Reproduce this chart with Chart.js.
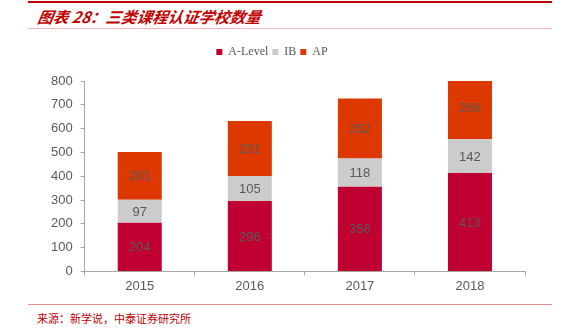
<!DOCTYPE html>
<html>
<head>
<meta charset="utf-8">
<script src="https://cdn.jsdelivr.net/npm/chart.js@4"></script>
<style>
  body { margin: 0; width: 564px; height: 332px; background: #fff; position: relative; overflow: hidden; }
  .topline { position: absolute; left: 28px; top: 1px; width: 524px; height: 2px; background: #c00000; }
  .title { position: absolute; left: 38px; top: 5px; font-family: "Noto Sans CJK SC", sans-serif; font-size: 15.5px; font-weight: bold; font-style: italic; color: #c00000; transform: skewX(-10deg); }
  .subline { position: absolute; left: 28px; top: 28px; width: 524px; height: 1px; background: #f0b4b4; }
  .bottomline { position: absolute; left: 28px; top: 304px; width: 524px; height: 1px; background: #e09090; }
  .source { position: absolute; left: 37px; top: 310px; font-family: "Noto Sans CJK SC", sans-serif; font-size: 11px; color: #c00000; }
  .wrap { position: absolute; left: 0; top: 34px; width: 564px; height: 268px; }
</style>
</head>
<body>
<div class="topline"></div>
<div class="title">图表 28：三类课程认证学校数量</div>
<div class="subline"></div>
<div class="wrap"><canvas id="chart"></canvas></div>
<div class="bottomline"></div>
<div class="source">来源：新学说，中泰证券研究所</div>
<script>
// данные с картинки
const years = ["2015", "2016", "2017", "2018"];
const aLevel = [204, 296, 356, 413];
const ib = [97, 105, 118, 142];
const ap = [201, 231, 252, 269];

// подписи внутри столбиков
const barLabels = {
  id: "barLabels",
  afterDatasetsDraw(chart) {
    const ctx = chart.ctx;
    ctx.save();
    ctx.font = "13px 'Liberation Sans', Arial, sans-serif";
    ctx.fillStyle = "#595959";
    ctx.textAlign = "center";
    ctx.textBaseline = "middle";
    chart.data.datasets.forEach((ds, i) => {
      const meta = chart.getDatasetMeta(i);
      meta.data.forEach((bar, j) => {
        ctx.fillText(ds.data[j], bar.x, (bar.y + bar.base) / 2 + 1);
      });
    });
    ctx.restore();
  }
};

// отступ под легендой и сдвиг легенды влево
const legendGap = {
  id: "legendGap",
  beforeInit(chart) {
    const fit = chart.legend.fit;
    chart.legend.fit = function () {
      fit.bind(chart.legend)();
      this.height += 13;
    };
  },
  afterLayout(chart) {
    chart.legend.left -= 12;
    chart.legend.right -= 12;
  }
};

const ctx = document.getElementById("chart").getContext("2d");
new Chart(ctx, {
  type: "bar",
  data: {
    labels: years,
    datasets: [
      { label: "A-Level", data: aLevel, backgroundColor: "#c00030" },
      { label: "IB", data: ib, backgroundColor: "#cccccc" },
      { label: "AP", data: ap, backgroundColor: "#dc3800" }
    ]
  },
  options: {
    responsive: true,
    maintainAspectRatio: false,
    animation: false,
    layout: { padding: { left: 43, right: 39, top: 8, bottom: 5 } },
    plugins: {
      legend: {
        position: "top",
        labels: {
          boxWidth: 6,
          boxHeight: 6,
          padding: 4,
          color: "#595959",
          font: { family: "'Liberation Serif', serif", size: 12 }
        }
      },
      tooltip: { enabled: false }
    },
    datasets: { bar: { categoryPercentage: 1, barPercentage: 0.4 } },
    scales: {
      x: {
        stacked: true,
        grid: { drawOnChartArea: false, tickLength: 4, color: "#a6a6a6" },
        border: { color: "#a6a6a6" },
        ticks: { color: "#595959", font: { family: "'Liberation Sans', Arial, sans-serif", size: 13 } }
      },
      y: {
        stacked: true,
        min: 0,
        max: 800,
        grid: { drawOnChartArea: false, tickLength: 4, color: "#a6a6a6" },
        border: { color: "#a6a6a6" },
        ticks: { stepSize: 100, padding: 8, color: "#595959", font: { family: "'Liberation Sans', Arial, sans-serif", size: 13 } }
      }
    }
  },
  plugins: [barLabels, legendGap]
});
</script>
</body>
</html>
